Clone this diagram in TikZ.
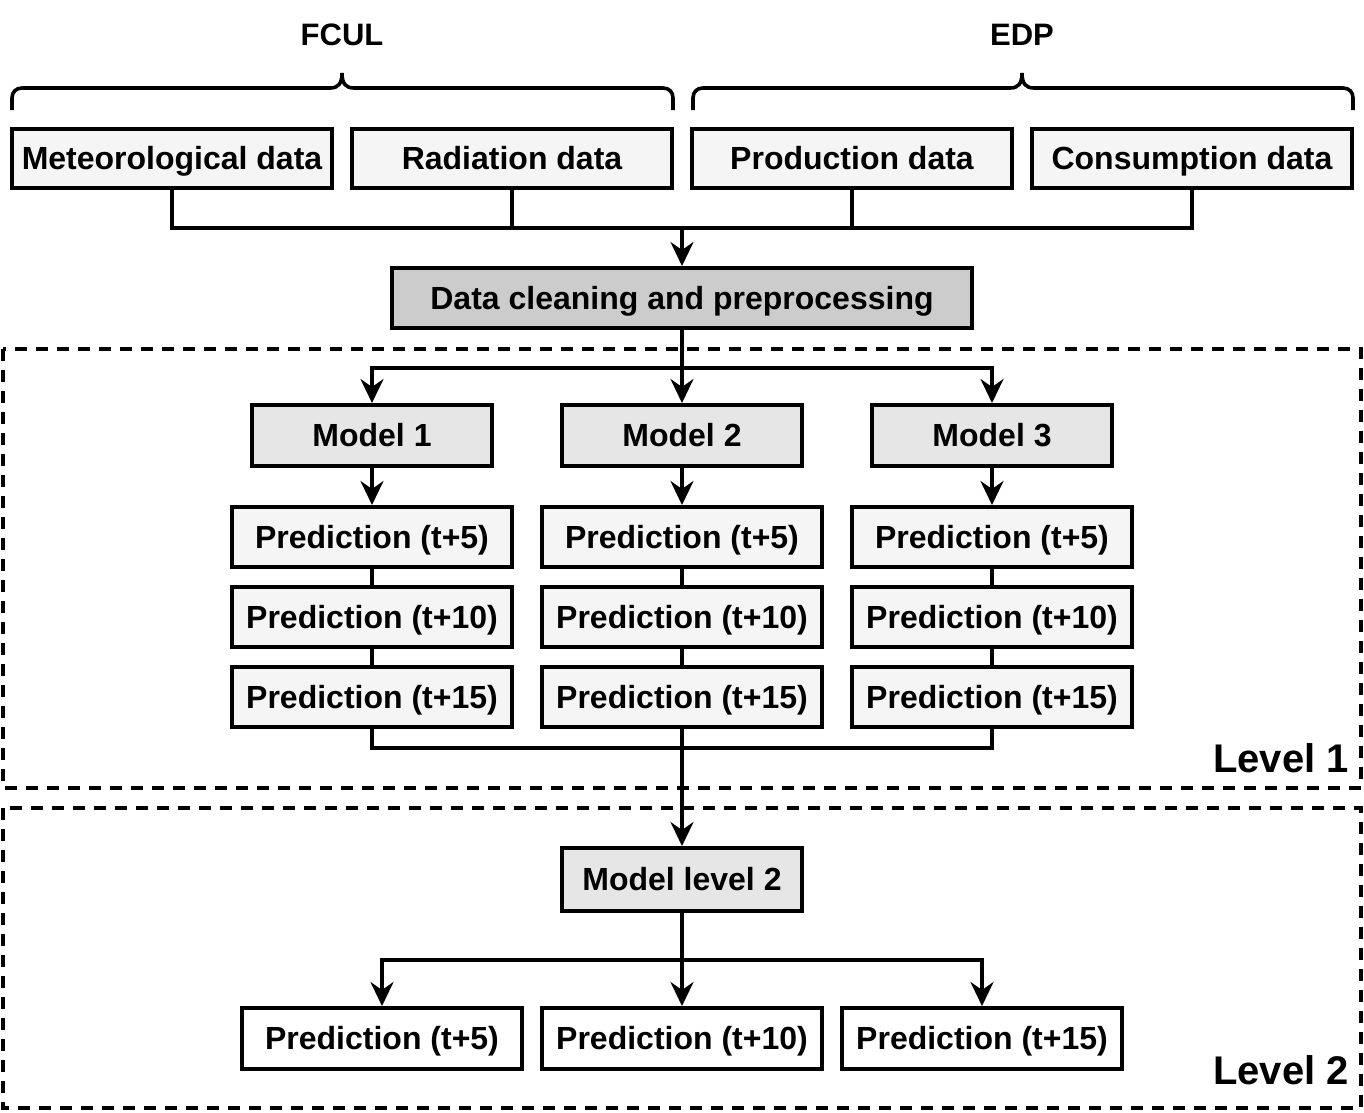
\documentclass[tikz,border=0pt]{standalone}
\usepackage{fontspec}
\setmainfont{Liberation Sans}
\usetikzlibrary{arrows.meta}
\definecolor{lightfill}{HTML}{F5F5F5}
\definecolor{modelfill}{HTML}{E6E6E6}
\definecolor{cleanfill}{HTML}{CCCCCC}
\tikzset{
  box/.style={draw=black, line width=4pt, inner sep=0pt, minimum height=60pt,
              text height=22pt, text depth=0pt,
              font=\fontsize{32}{36}\selectfont\bfseries, text=black},
  databox/.style={box, fill=lightfill, minimum width=320pt, minimum height=59pt},
  predbox/.style={box, fill=lightfill, minimum width=280pt, minimum height=60pt},
  outbox/.style={box, fill=white, minimum width=280pt, minimum height=61pt},
  modelbox/.style={box, fill=modelfill, minimum width=240pt, minimum height=61pt},
  conn/.style={line width=3.6pt, draw=black},
  arr/.style={conn, -{Stealth[length=24pt,width=23pt,inset=8pt]}},
  levelbox/.style={draw=black, line width=3.8pt, dash pattern=on 12pt off 9pt},
  brace/.style={draw=black, line width=3.6pt},
  group/.style={font=\fontsize{31}{34}\selectfont\bfseries, text=black},
  leveltext/.style={font=\fontsize{40}{44}\selectfont\bfseries, text=black, inner sep=0pt}
}
\begin{document}
\begin{tikzpicture}[x=1pt, y=-1pt]
\useasboundingbox (0,0) rectangle (1364,1112);

% dashed level frames
\draw[levelbox] (3,349) rectangle (1361,788);
\draw[levelbox] (3,808) rectangle (1361,1108);
\node[leveltext, anchor=base east] (lvl1) at (1349,772) {Level 1};
\node[leveltext, anchor=base east] (lvl2) at (1349,1084) {Level 2};

% group labels and braces
\node[group, text height=22pt, text depth=2pt] (fcul) at (342,35) {FCUL};
\node[group, text height=22pt, text depth=2pt] (edp) at (1022,35) {EDP};
\draw[brace] (12,110) -- (12,98) .. controls (12,92) and (16,88) .. (22,88) -- (330,88)
  .. controls (338,88) and (342,84) .. (342,73)
  .. controls (342,84) and (346,88) .. (354,88) -- (663,88)
  .. controls (669,88) and (673,92) .. (673,98) -- (673,110);
\draw[brace] (693,110) -- (693,98) .. controls (693,92) and (697,88) .. (703,88) -- (1010,88)
  .. controls (1018,88) and (1022,84) .. (1022,73)
  .. controls (1022,84) and (1026,88) .. (1034,88) -- (1343,88)
  .. controls (1349,88) and (1353,92) .. (1353,98) -- (1353,110);

% data sources
\node[databox] (met) at (172,158.5) {Meteorological data};
\node[databox] (rad) at (512,158.5) {Radiation data};
\node[databox] (prod) at (852,158.5) {Production data};
\node[databox] (cons) at (1192,158.5) {Consumption data};

\node[box, fill=cleanfill, minimum width=580pt, minimum height=60pt] (clean) at (682,298) {Data cleaning and preprocessing};

\coordinate (j1) at (682,228);
\draw[conn] (met.south) |- (j1);
\draw[conn] (rad.south) |- (j1);
\draw[conn] (prod.south) |- (j1);
\draw[conn] (cons.south) |- (j1);
\draw[arr] (j1) -- (clean.north);

% level 1 models
\node[modelbox] (m1) at (372,435.5) {Model 1};
\node[modelbox] (m2) at (682,435.5) {Model 2};
\node[modelbox] (m3) at (992,435.5) {Model 3};

\coordinate (j2) at (682,368);
\draw[arr] (clean.south) -- (m2.north);
\draw[arr] (j2) -| (m1.north);
\draw[arr] (j2) -| (m3.north);

% predictions
\foreach \i/\x in {1/372, 2/682, 3/992} {
  \node[predbox] (p\i a) at (\x,537) {Prediction (t+5)};
  \node[predbox] (p\i b) at (\x,617) {Prediction (t+10)};
  \node[predbox] (p\i c) at (\x,697) {Prediction (t+15)};
  \draw[arr] (m\i.south) -- (p\i a.north);
  \draw[conn] (p\i a.south) -- (p\i b.north);
  \draw[conn] (p\i b.south) -- (p\i c.north);
}

% level 2
\node[modelbox, minimum height=63pt] (ml2) at (682,879.5) {Model level 2};
\coordinate (j3) at (682,748);
\draw[conn] (p1c.south) |- (j3);
\draw[conn] (p3c.south) |- (j3);
\draw[arr] (p2c.south) -- (ml2.north);

\node[outbox] (q1) at (382,1038.5) {Prediction (t+5)};
\node[outbox] (q2) at (682,1038.5) {Prediction (t+10)};
\node[outbox] (q3) at (982,1038.5) {Prediction (t+15)};
\coordinate (j4) at (682,960);
\draw[arr] (ml2.south) -- (q2.north);
\draw[arr] (j4) -| (q1.north);
\draw[arr] (j4) -| (q3.north);
\end{tikzpicture}
\end{document}
